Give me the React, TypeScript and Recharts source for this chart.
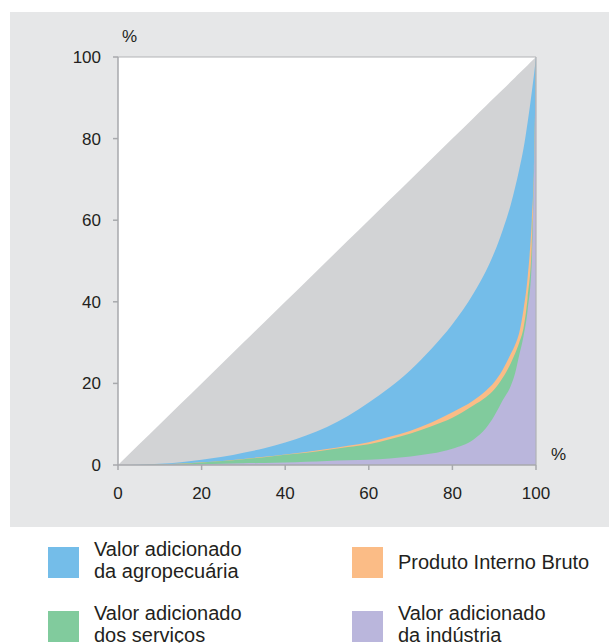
import React from "react";
import { AreaChart, Area, XAxis, YAxis, CartesianGrid, ReferenceLine } from "recharts";

// Cumulative share of population (%)
const populacao = [0, 5, 10, 15, 20, 25, 30, 35, 40, 45, 50, 55, 60, 65, 70, 75, 80, 85, 88, 90, 92, 94, 95, 96, 97, 98, 99, 99.5, 100];
// Line of perfect equality
const igualdade = [0, 5, 10, 15, 20, 25, 30, 35, 40, 45, 50, 55, 60, 65, 70, 75, 80, 85, 88, 90, 92, 94, 95, 96, 97, 98, 99, 99.5, 100];
// Valor adicionado da agropecuária
const agropecuaria = [0, 0.05, 0.3, 0.7, 1.3, 2.0, 3.0, 4.1, 5.5, 7.2, 9.3, 12.0, 15.3, 19.0, 23.3, 28.5, 34.5, 42, 47.5, 52, 57.5, 64, 68, 72.5, 77.5, 84, 91.5, 95.5, 100];
// Produto Interno Bruto
const pib = [0, 0.03, 0.15, 0.35, 0.65, 1.0, 1.5, 2.0, 2.6, 3.2, 3.9, 4.7, 5.6, 6.9, 8.4, 10.4, 12.9, 15.8, 18.2, 20.3, 23.3, 27.3, 29.5, 32.5, 38, 46, 60, 72, 100];
// Valor adicionado dos serviços
const servicos = [0, 0.03, 0.12, 0.3, 0.6, 0.95, 1.4, 1.9, 2.5, 3.0, 3.7, 4.4, 5.1, 6.3, 7.7, 9.5, 11.6, 14.6, 16.6, 18.5, 21.3, 25, 27.3, 30, 33.5, 41, 54, 70, 100];
// Valor adicionado da indústria
const industria = [0, 0.01, 0.05, 0.1, 0.2, 0.3, 0.4, 0.5, 0.6, 0.8, 1.0, 1.15, 1.3, 1.6, 2.1, 2.8, 4.0, 6.2, 9.0, 12, 15.8, 19.5, 22.5, 27, 31.5, 38, 50, 70, 100];

const axisTicks = [0, 20, 40, 60, 80, 100];

const COLORS = {
  igualdade: "#d2d3d5",
  agro: "#74bde9",
  pib: "#fbbc86",
  servicos: "#81cb9d",
  industria: "#bab6dc",
};

const data = populacao.map((x, i) => ({
  x,
  igualdade: igualdade[i],
  agro: agropecuaria[i],
  pib: pib[i],
  servicos: servicos[i],
  industria: industria[i],
}));

const legendItems = [
  { color: COLORS.agro, lines: ["Valor adicionado", "da agropecuária"], left: 48, top: 547 },
  { color: COLORS.pib, lines: ["Produto Interno Bruto"], left: 352, top: 547 },
  { color: COLORS.servicos, lines: ["Valor adicionado", "dos serviços"], left: 48, top: 611 },
  { color: COLORS.industria, lines: ["Valor adicionado", "da indústria"], left: 352, top: 611 },
];

const FONT = "'Liberation Sans', Arial, Helvetica, sans-serif";
const tickStyle = { fill: "#231f20", fontSize: 17, fontFamily: FONT };

export default function App() {
  return (
    <div style={{ position: "absolute", left: 0, top: 0, width: 609, height: 643, overflow: "hidden", background: "#fff", fontFamily: FONT }}>
      <div style={{ position: "absolute", left: 10, top: 12, width: 599, height: 515, background: "#e6e7e8" }} />
      <div style={{ position: "absolute", left: 0, top: 0 }}>
        <AreaChart
          width={609}
          height={527}
          data={data}
          margin={{ top: 57, right: 73, bottom: 32, left: 58 }}
        >
          <CartesianGrid horizontal={false} vertical={false} fill="#ffffff" stroke="none" />
          <XAxis
            type="number"
            dataKey="x"
            domain={[0, 100]}
            ticks={axisTicks}
            height={30}
            tickSize={5}
            tickMargin={17}
            axisLine={{ stroke: "#a7a9ac", strokeWidth: 1.5 }}
            tickLine={{ stroke: "#a7a9ac", strokeWidth: 1.5 }}
            tick={tickStyle}
            allowDataOverflow
          />
          <YAxis
            type="number"
            domain={[0, 100]}
            ticks={axisTicks}
            width={60}
            tickSize={5}
            tickMargin={12}
            axisLine={{ stroke: "#a7a9ac", strokeWidth: 1.5 }}
            tickLine={{ stroke: "#a7a9ac", strokeWidth: 1.5 }}
            tick={tickStyle}
            allowDataOverflow
          />
          <Area type="monotone" dataKey="igualdade" stroke="none" fill={COLORS.igualdade} fillOpacity={1} isAnimationActive={false} />
          <Area type="monotone" dataKey="agro" stroke="none" fill={COLORS.agro} fillOpacity={1} isAnimationActive={false} />
          <Area type="monotone" dataKey="pib" stroke="none" fill={COLORS.pib} fillOpacity={1} isAnimationActive={false} />
          <Area type="monotone" dataKey="servicos" stroke="none" fill={COLORS.servicos} fillOpacity={1} isAnimationActive={false} />
          <Area type="monotone" dataKey="industria" stroke="none" fill={COLORS.industria} fillOpacity={1} isAnimationActive={false} />
          <ReferenceLine y={100} stroke="#b1b3b6" strokeWidth={1.2} />
          <ReferenceLine x={100} stroke="#b1b3b6" strokeWidth={1.2} />
        </AreaChart>
      </div>
      <div style={{ position: "absolute", left: 122, top: 27, fontSize: 17, color: "#231f20", lineHeight: "20px" }}>%</div>
      <div style={{ position: "absolute", left: 551, top: 445, fontSize: 17, color: "#231f20", lineHeight: "20px" }}>%</div>
      {legendItems.map((item) => (
        <div key={item.lines[0] + item.left + item.top} style={{ position: "absolute", left: item.left, top: item.top }}>
          <div style={{ position: "absolute", left: 0, top: 0, width: 31, height: 31, background: item.color }} />
          <div
            style={{
              position: "absolute",
              left: 46,
              top: item.lines.length === 1 ? 4 : -9,
              fontSize: 20,
              lineHeight: "22px",
              color: "#231f20",
              whiteSpace: "nowrap",
            }}
          >
            {item.lines.map((l) => (
              <div key={l}>{l}</div>
            ))}
          </div>
        </div>
      ))}
    </div>
  );
}
